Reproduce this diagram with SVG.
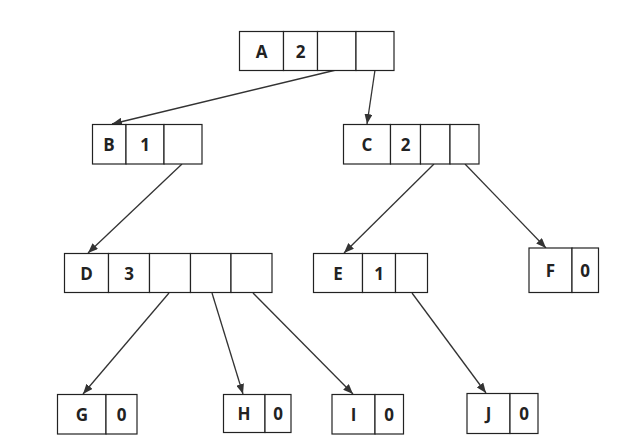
<svg xmlns="http://www.w3.org/2000/svg" width="622" height="447" viewBox="0 0 622 447">
<defs>
<style>
.c{fill:#fff;stroke:#222;stroke-width:1.2}
.t{font-family:"Open Sans","Noto Sans","DejaVu Sans",sans-serif;font-weight:bold;font-size:17px;fill:#222;text-anchor:middle;dominant-baseline:central}
.e{stroke:#333;stroke-width:1.3;fill:none;marker-end:url(#ah)}
</style>
<marker id="ah" viewBox="0 0 10 8" refX="10" refY="4" markerWidth="10" markerHeight="8" markerUnits="userSpaceOnUse" orient="auto">
<path d="M0,0 L10,4 L0,8 Z" fill="#333"/>
</marker>
</defs>
<rect width="622" height="447" fill="#fff"/>
<g id="connectors">
<line class="e" x1="336" y1="70" x2="112" y2="124"/>
<line class="e" x1="375" y1="70" x2="367" y2="124"/>
<line class="e" x1="182" y1="164" x2="88" y2="253"/>
<line class="e" x1="434" y1="164" x2="344" y2="253"/>
<line class="e" x1="465" y1="164" x2="546" y2="248"/>
<line class="e" x1="169" y1="293" x2="83" y2="394"/>
<line class="e" x1="212" y1="293" x2="243" y2="394"/>
<line class="e" x1="253" y1="293" x2="353" y2="394"/>
<line class="e" x1="412" y1="293" x2="486" y2="393"/>
</g>
<g id="A">
<rect class="c" x="239.5" y="31.5" width="44" height="39"/>
<rect class="c" x="283.5" y="31.5" width="34" height="39"/>
<rect class="c" x="317.5" y="31.5" width="38.5" height="39"/>
<rect class="c" x="356" y="31.5" width="38" height="39"/>
<text class="t" x="261.5" y="51">A</text>
<text class="t" x="300.5" y="51">2</text>
</g>
<g id="B">
<rect class="c" x="92.5" y="124.5" width="33.5" height="39.5"/>
<rect class="c" x="126" y="124.5" width="38" height="39.5"/>
<rect class="c" x="164" y="124.5" width="38" height="39.5"/>
<text class="t" x="109" y="144">B</text>
<text class="t" x="145" y="144">1</text>
</g>
<g id="C">
<rect class="c" x="343.5" y="124.5" width="47" height="39.5"/>
<rect class="c" x="390.5" y="124.5" width="30" height="39.5"/>
<rect class="c" x="420.5" y="124.5" width="29.5" height="39.5"/>
<rect class="c" x="450" y="124.5" width="29" height="39.5"/>
<text class="t" x="367" y="144">C</text>
<text class="t" x="405.5" y="144">2</text>
</g>
<g id="D">
<rect class="c" x="64.5" y="253.5" width="44" height="39"/>
<rect class="c" x="108.5" y="253.5" width="41" height="39"/>
<rect class="c" x="149.5" y="253.5" width="41" height="39"/>
<rect class="c" x="190.5" y="253.5" width="40.5" height="39"/>
<rect class="c" x="231" y="253.5" width="41" height="39"/>
<text class="t" x="86.5" y="273">D</text>
<text class="t" x="129" y="273">3</text>
</g>
<g id="E">
<rect class="c" x="313.5" y="253.5" width="49" height="39"/>
<rect class="c" x="362.5" y="253.5" width="33" height="39"/>
<rect class="c" x="395.5" y="253.5" width="32" height="39"/>
<text class="t" x="338" y="273">E</text>
<text class="t" x="379" y="273">1</text>
</g>
<g id="F">
<rect class="c" x="529" y="248" width="43" height="44.5"/>
<rect class="c" x="572" y="248" width="26.5" height="44.5"/>
<text class="t" x="550.5" y="270">F</text>
<text class="t" x="585" y="270">0</text>
</g>
<g id="G">
<rect class="c" x="57.5" y="394.5" width="48.5" height="39.5"/>
<rect class="c" x="106" y="394.5" width="31" height="39.5"/>
<text class="t" x="82" y="414">G</text>
<text class="t" x="121.5" y="414">0</text>
</g>
<g id="H">
<rect class="c" x="223.5" y="394.5" width="41.5" height="38"/>
<rect class="c" x="265" y="394.5" width="26" height="38"/>
<text class="t" x="244" y="413">H</text>
<text class="t" x="278" y="413">0</text>
</g>
<g id="I">
<rect class="c" x="332" y="394.5" width="43" height="39.5"/>
<rect class="c" x="375" y="394.5" width="28.5" height="39.5"/>
<text class="t" x="353.5" y="414">I</text>
<text class="t" x="389" y="414">0</text>
</g>
<g id="J">
<rect class="c" x="467" y="393.5" width="43" height="40"/>
<rect class="c" x="510" y="393.5" width="28" height="40"/>
<text class="t" x="488.5" y="413">J</text>
<text class="t" x="524" y="413">0</text>
</g>
</svg>
